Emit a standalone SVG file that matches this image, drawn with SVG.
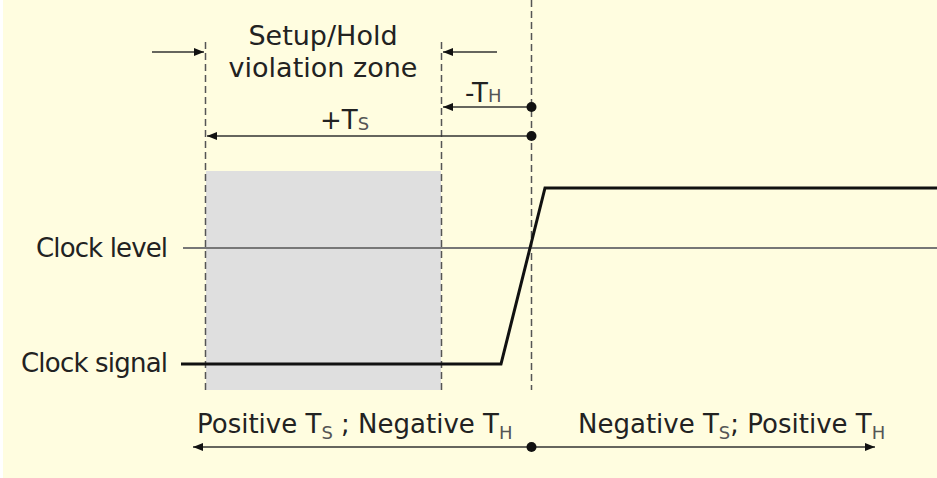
<svg xmlns="http://www.w3.org/2000/svg" width="937" height="478" viewBox="0 0 937 478">
<style>
text{font-family:"DejaVu Sans","Verdana",sans-serif;fill:#222;}
.lbl{font-size:26px;}
.big{font-size:27px;}
.sub{font-size:18px;fill:#555;}
.dash{stroke:#555;stroke-width:1.5;stroke-dasharray:7 4;fill:none;}
.dim{stroke:#333;stroke-width:1.5;fill:none;}
</style>
<defs>
<marker id="ah" viewBox="0 0 10 10" refX="10" refY="5" markerWidth="10" markerHeight="10" markerUnits="userSpaceOnUse" orient="auto-start-reverse">
<path d="M0,1 L10,5 L0,9 Z" fill="#111"/>
</marker>
</defs>
<rect x="0" y="0" width="937" height="478" fill="#FFFDE0"/>
<rect x="0" y="0" width="3" height="478" fill="#fff"/>
<g id="zone">
<rect x="206" y="171" width="235" height="219" fill="#DFDFDF"/>
</g>
<g id="guides">
<line class="dash" x1="205.5" y1="42" x2="205.5" y2="390"/>
<line class="dash" x1="441.5" y1="42" x2="441.5" y2="390"/>
<line class="dash" x1="531.5" y1="0" x2="531.5" y2="390"/>
</g>
<g id="clock-level">
<line x1="183" y1="248" x2="937" y2="248" stroke="#777" stroke-width="2"/>
<text class="lbl" x="168" y="257" text-anchor="end" textLength="132">Clock level</text>
</g>
<g id="clock-signal">
<polyline points="181,364 501,364 545,188 937,188" fill="none" stroke="#111" stroke-width="3"/>
<text class="lbl" x="168" y="372" text-anchor="end" textLength="147">Clock signal</text>
</g>
<g id="zone-label">
<text class="big" x="323" y="45" text-anchor="middle">Setup/Hold</text>
<text class="big" x="323" y="77" text-anchor="middle">violation zone</text>
</g>
<g id="connectors">
<line class="dim" x1="152" y1="52" x2="204" y2="52" marker-end="url(#ah)"/>
<line class="dim" x1="497" y1="52" x2="443" y2="52" marker-end="url(#ah)"/>
<line class="dim" x1="531" y1="107" x2="443" y2="107" marker-end="url(#ah)"/>
<line class="dim" x1="531" y1="136" x2="207" y2="136" marker-end="url(#ah)"/>
<line class="dim" x1="193" y1="447" x2="875" y2="447" marker-start="url(#ah)" marker-end="url(#ah)"/>
<circle cx="531.5" cy="107" r="5" fill="#111"/>
<circle cx="531.5" cy="136" r="5" fill="#111"/>
<circle cx="531.5" cy="447" r="5" fill="#111"/>
</g>
<g id="th-label">
<text class="lbl" x="465" y="102">-T<tspan class="sub" dy="0">H</tspan></text>
</g>
<g id="ts-label">
<text class="lbl" x="320" y="129">+T<tspan class="sub" dy="1">S</tspan></text>
</g>
<g id="left-region">
<text class="lbl" x="197" y="433">Positive T<tspan class="sub" dy="6">S</tspan><tspan dy="-6"> ; Negative T</tspan><tspan class="sub" dy="6">H</tspan></text>
</g>
<g id="right-region">
<text class="lbl" x="578" y="433">Negative T<tspan class="sub" dy="6">S</tspan><tspan dy="-6">; Positive T</tspan><tspan class="sub" dy="6">H</tspan></text>
</g>
</svg>
